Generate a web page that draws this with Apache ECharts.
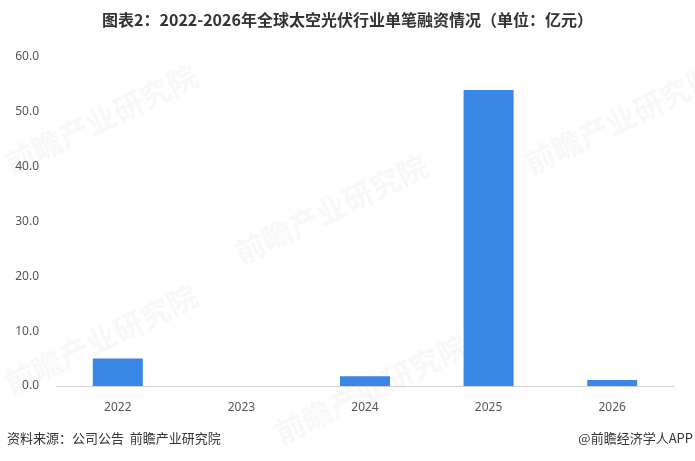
<!DOCTYPE html>
<html><head><meta charset="utf-8">
<script src="https://cdn.jsdelivr.net/npm/echarts@6/dist/echarts.min.js"></script>
<style>html,body{margin:0;padding:0;background:#fff}#c{width:695px;height:461px}</style>
</head><body><div id="c"></div>
<script>
var categories = ['2022', '2023', '2024', '2025', '2026'];
var values = [5.0, 0, 1.8, 54.0, 1.1];
var yTicks = { min: 0, max: 60, interval: 10 };
var titleText = '图表2：2022-2026年全球太空光伏行业单笔融资情况（单位：亿元）';
var sourceText = '资料来源：公司公告  前瞻产业研究院';
var brandText = '@前瞻经济学人APP';

var chart = echarts.init(document.getElementById('c'), null, { renderer: 'canvas' });
var wm = [];
[[0, 60], [230, 150], [0, 280], [520, 60], [270, 330]].forEach(function (p) {
  wm.push({
    type: 'text', left: p[0], top: p[1], rotation: 0.45, z: 0,
    style: { text: '前瞻产业研究院', fill: 'rgba(200,200,200,0.12)', font: 'bold 30px "Noto Sans CJK SC"' }
  });
});
chart.setOption({
  animation: false,
  title: {
    text: titleText, left: 'center', top: 7,
    textStyle: { fontFamily: '"Noto Sans CJK SC"', fontSize: 16, fontWeight: 'bold', color: '#333' }
  },
  grid: { left: 56, right: 21, top: 57, bottom: 75 },
  xAxis: {
    type: 'category', data: categories,
    axisLine: { lineStyle: { color: '#d0d0d0' } },
    axisTick: { show: false },
    axisLabel: { color: '#555', fontSize: 12, margin: 16, fontFamily: '"Noto Sans", sans-serif' }
  },
  yAxis: {
    type: 'value', min: yTicks.min, max: yTicks.max, interval: yTicks.interval,
    splitLine: { show: false }, axisLine: { show: false }, axisTick: { show: false },
    axisLabel: { color: '#555', fontSize: 12, margin: 17, fontFamily: '"Noto Sans", sans-serif',
      formatter: function (v) { return v.toFixed(1); } }
  },
  series: [{
    type: 'bar', data: values, barWidth: 50,
    itemStyle: { color: '#3a86e4' }
  }],
  graphic: wm.concat([
    { type: 'text', left: 7, top: 432, style: { text: sourceText, fill: '#333', font: '13px "Noto Sans CJK SC"' } },
    { type: 'text', right: 2, top: 432, style: { text: brandText, fill: '#333', font: '13px "Noto Sans CJK SC"' } }
  ])
});
</script></body></html>
